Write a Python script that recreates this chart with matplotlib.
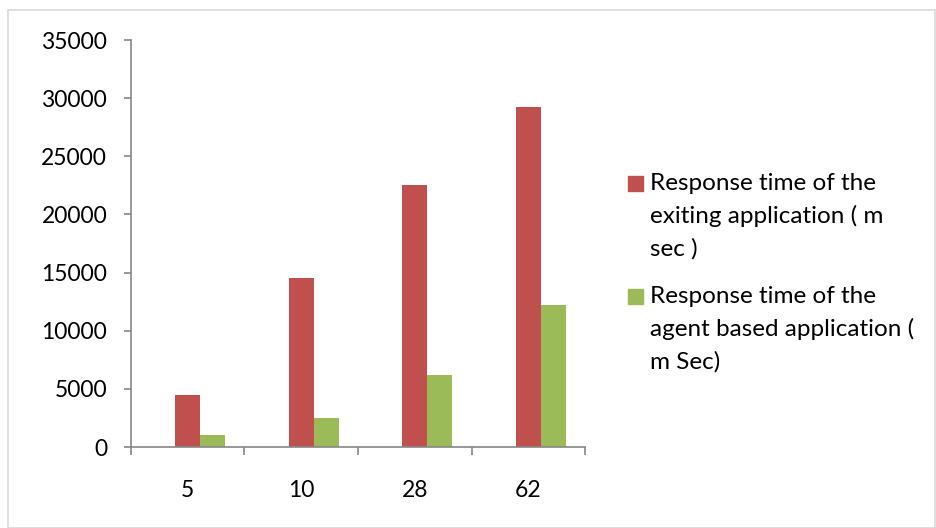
import matplotlib.pyplot as plt
import numpy as np
from matplotlib.patches import Rectangle

categories = ['5', '10', '28', '62']
existing = [4500, 14500, 22500, 29200]
agent = [1000, 2500, 6200, 12200]
labels = ['Response time of the\nexiting application ( m\nsec )',
          'Response time of the\nagent based application (\nm Sec)']

plt.rcParams['font.family'] = ['Lato', 'DejaVu Sans']
red = '#C0504D'
green = '#9BBB59'
axis_grey = '#868686'

W, H = 936, 528
fig = plt.figure(figsize=(W / 100, H / 100), dpi=100)
fig.patches.append(Rectangle((0.009, 0.0), 0.99, 0.981, transform=fig.transFigure,
                             fill=False, edgecolor='#D9D9D9', linewidth=1.2))
ax = fig.add_axes([0.1397, 0.1534, 0.4855, 0.7708])

x = np.arange(len(categories))
w = 0.22
ax.bar(x, existing, w, color=red, label=labels[0])
ax.bar(x + w, agent, w, color=green, label=labels[1])

ax.set_xlim(-0.5, len(categories) - 0.5)
ax.set_ylim(0, 35000)
ax.set_yticks(np.arange(0, 35001, 5000))
ax.set_xticks(x)
ax.set_xticklabels(categories)
ax.set_xticks(np.arange(-0.5, len(categories), 1), minor=True)

for s in ['top', 'right']:
    ax.spines[s].set_visible(False)
for s in ['left', 'bottom']:
    ax.spines[s].set_color(axis_grey)
    ax.spines[s].set_linewidth(1.2)

ax.tick_params(axis='y', length=5, width=1.2, color=axis_grey, labelsize=16.5, pad=12)
ax.tick_params(axis='x', which='major', length=0, labelsize=16.5, pad=24)
ax.tick_params(axis='x', which='minor', length=6, width=1.2, color=axis_grey)

# legend drawn by hand: square aligned with the first line of each label
for (top, col, lab) in [(176, red, labels[0]), (289, green, labels[1])]:
    fig.patches.append(Rectangle((628 / W, 1 - (top + 15) / H), 15 / W, 15 / H,
                                 transform=fig.transFigure, color=col))
    fig.text(650 / W, 1 - (top - 3) / H, lab, fontsize=17.5, va='top', ha='left',
             linespacing=1.62)

plt.savefig('out.png', dpi=100)
